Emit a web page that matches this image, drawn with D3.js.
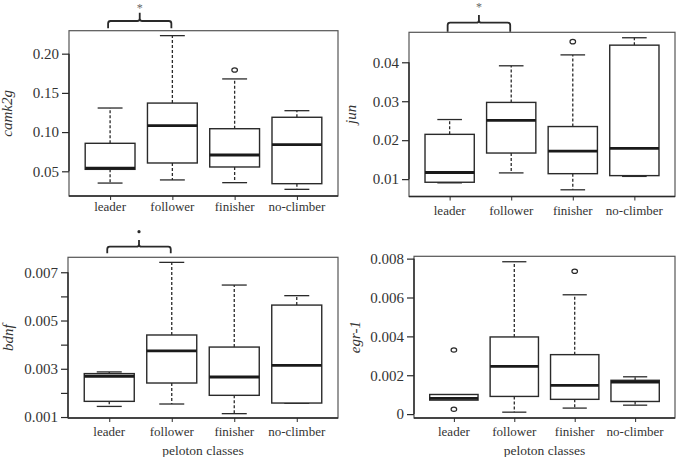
<!DOCTYPE html>
<html><head><meta charset="utf-8">
<script src="https://cdn.jsdelivr.net/npm/d3@7"></script>
<style>body{margin:0;background:#fff}svg{display:block}</style>
</head><body>
<script>
const categories = ["leader", "follower", "finisher", "no-climber"];

// [lower whisker, Q1, median, Q3, upper whisker]
const camk2gStats = [
  [0.035, 0.0525, 0.054, 0.0857, 0.1307],
  [0.039, 0.0606, 0.1082, 0.137, 0.223],
  [0.0355, 0.0555, 0.0708, 0.1043, 0.1678],
  [0.027, 0.0342, 0.084, 0.1189, 0.1273]
];
const camk2gOutliers = [[], [], [0.1792], []];
const camk2gTicks = [0.05, 0.10, 0.15, 0.20];
const camk2gTickLabels = ["0.05", "0.10", "0.15", "0.20"];

const junStats = [
  [0.00905, 0.0092, 0.0117, 0.0215, 0.0253],
  [0.0116, 0.0167, 0.0251, 0.0297, 0.0391],
  [0.00726, 0.0114, 0.0172, 0.0235, 0.0419],
  [0.0107, 0.0109, 0.0179, 0.0444, 0.0463]
];
const junOutliers = [[], [], [0.0453], []];
const junTicks = [0.01, 0.02, 0.03, 0.04];
const junTickLabels = ["0.01", "0.02", "0.03", "0.04"];

const bdnfStats = [
  [0.00144, 0.00165, 0.00269, 0.00280, 0.00287],
  [0.00154, 0.00241, 0.00374, 0.0044, 0.00741],
  [0.00114, 0.0019, 0.00266, 0.0039, 0.00647],
  [0.00157, 0.00158, 0.00314, 0.00564, 0.00603]
];
const bdnfOutliers = [[], [], [], []];
const bdnfTicks = [0.001, 0.002, 0.003, 0.004, 0.005, 0.006, 0.007];
const bdnfTickLabels = ["0.001", "", "0.003", "", "0.005", "", "0.007"];

const egr1Stats = [
  [0.00072, 0.00072, 0.00081, 0.00101, 0.00101],
  [0.0001, 0.00091, 0.00246, 0.00397, 0.00784],
  [0.00031, 0.00076, 0.00148, 0.00306, 0.00614],
  [0.00046, 0.00065, 0.00165, 0.00174, 0.00192]
];
const egr1Outliers = [[0.0033, 0.00025], [], [0.00735], []];
const egr1Ticks = [0, 0.002, 0.004, 0.006, 0.008];
const egr1TickLabels = ["0", "0.002", "0.004", "0.006", "0.008"];

const W = 678, H = 457;
const svg = d3.select("body").append("svg").attr("width", W).attr("height", H);

const panels = [
  {gene: "camk2g", stats: camk2gStats, out: camk2gOutliers, ticks: camk2gTicks, tl: camk2gTickLabels,
   domain: [0.0185, 0.2293], l: 69, r: 338, t: 30.7, b: 196, ylabX: 12, xlabY: 211,
   sig: {type: "star", yh: 21, yb: 28.3, yp: 12.7, ys: 12}},
  {gene: "jun", stats: junStats, out: junOutliers, ticks: junTicks, tl: junTickLabels,
   domain: [0.00554, 0.0477], l: 409, r: 675, t: 32.3, b: 196.5, ylabX: 356, xlabY: 215,
   sig: {type: "star", yh: 22.7, yb: 31.7, yp: 15, ys: 10.5}},
  {gene: "bdnf", stats: bdnfStats, out: bdnfOutliers, ticks: bdnfTicks, tl: bdnfTickLabels,
   domain: [0.00096, 0.00762], l: 68, r: 338, t: 257.3, b: 418, ylabX: 13, xlabY: 436, xtitle: true,
   sig: {type: "dot", yh: 246.7, yb: 253.3, yp: 240, ys: 231.7}},
  {gene: "egr-1", stats: egr1Stats, out: egr1Outliers, ticks: egr1Ticks, tl: egr1TickLabels,
   domain: [-0.0002, 0.00812], l: 414, r: 675, t: 256.3, b: 418, ylabX: 360, xlabY: 436, xtitle: true}
];

const ink = "#2a2a2a";
const serif = '"Liberation Serif"';

panels.forEach(p => {
  const x = d3.scaleLinear().domain([0.34, categories.length + 0.66]).range([p.l, p.r]);
  const y = d3.scaleLinear().domain(p.domain).range([p.b, p.t]);
  const g = svg.append("g");
  const bw = (x(1) - x(0)) * 0.8;

  // frame
  g.append("rect").attr("x", p.l).attr("y", p.t).attr("width", p.r - p.l).attr("height", p.b - p.t)
    .attr("fill", "none").attr("stroke", "#555").attr("stroke-width", 1.2);

  // y axis
  const yAxis = d3.axisLeft(y).tickValues(p.ticks).tickSize(7).tickPadding(3)
    .tickFormat((d, i) => p.tl[i]);
  const ya = g.append("g").attr("transform", `translate(${p.l},0)`).call(yAxis);
  ya.select(".domain").remove();
  ya.append("line").attr("x1", 0).attr("x2", 0).attr("y1", y(p.ticks[0])).attr("y2", y(p.ticks[p.ticks.length - 1]))
    .attr("stroke", ink).attr("stroke-width", 1.4);
  ya.selectAll(".tick line").attr("stroke", ink).attr("stroke-width", 1.2);
  ya.selectAll(".tick text").style("font-family", serif).style("font-size", "15px").attr("fill", "#333");

  // x axis ticks
  const xAxis = d3.axisBottom(x).tickValues(categories.map((c, i) => i + 1)).tickSize(4).tickFormat(() => "");
  const xa = g.append("g").attr("transform", `translate(0,${p.b})`).call(xAxis);
  xa.select(".domain").remove();
  xa.selectAll(".tick line").attr("stroke", ink);
  g.append("line").attr("x1", p.l).attr("x2", p.r).attr("y1", p.b).attr("y2", p.b)
    .attr("stroke", ink).attr("stroke-width", 1.4);
  categories.forEach((c, i) => {
    g.append("text").attr("x", x(i + 1)).attr("y", p.xlabY).attr("text-anchor", "middle")
      .style("font-family", serif).style("font-size", "13px").attr("fill", "#333").text(c);
  });

  // y label
  g.append("text").attr("transform", `translate(${p.ylabX},${(p.t + p.b) / 2}) rotate(-90)`)
    .attr("text-anchor", "middle").style("font-family", serif).style("font-style", "italic")
    .style("font-size", "15px").attr("fill", "#333").text(p.gene);

  if (p.xtitle) {
    g.append("text").attr("x", (p.l + p.r) / 2).attr("y", 455).attr("text-anchor", "middle")
      .style("font-family", serif).style("font-size", "13.5px").attr("fill", "#333").text("peloton classes");
  }

  // boxes
  p.stats.forEach((s, i) => {
    const cx = x(i + 1);
    const [lo, q1, med, q3, hi] = s;
    if (hi > q3) {
      g.append("line").attr("x1", cx).attr("x2", cx).attr("y1", y(q3)).attr("y2", y(hi))
        .attr("stroke", ink).attr("stroke-width", 1.3).attr("stroke-dasharray", "3,2");
      g.append("line").attr("x1", cx - bw / 4).attr("x2", cx + bw / 4).attr("y1", y(hi)).attr("y2", y(hi))
        .attr("stroke", ink).attr("stroke-width", 1.3);
    }
    if (lo < q1) {
      g.append("line").attr("x1", cx).attr("x2", cx).attr("y1", y(q1)).attr("y2", y(lo))
        .attr("stroke", ink).attr("stroke-width", 1.3).attr("stroke-dasharray", "3,2");
      g.append("line").attr("x1", cx - bw / 4).attr("x2", cx + bw / 4).attr("y1", y(lo)).attr("y2", y(lo))
        .attr("stroke", ink).attr("stroke-width", 1.3);
    }
    g.append("rect").attr("x", cx - bw / 2).attr("y", y(q3)).attr("width", bw).attr("height", y(q1) - y(q3))
      .attr("fill", "#fff").attr("stroke", ink).attr("stroke-width", 1.4);
    g.append("line").attr("x1", cx - bw / 2).attr("x2", cx + bw / 2).attr("y1", y(med)).attr("y2", y(med))
      .attr("stroke", "#1a1a1a").attr("stroke-width", 2.8);
    p.out[i].forEach(o => {
      g.append("ellipse").attr("cx", cx).attr("cy", y(o)).attr("rx", 2.8).attr("ry", 2.2)
        .attr("fill", "none").attr("stroke", ink).attr("stroke-width", 1.2);
    });
  });

  // significance bracket between leader and follower
  if (p.sig) {
    const s = p.sig;
    const x1 = x(1) - 2, x2 = x(2) - 1, xm = (x1 + x2) / 2, r = 2.5;
    const path = `M${x1},${s.yb} L${x1},${s.yh + r} Q${x1},${s.yh} ${x1 + r},${s.yh} L${xm - r},${s.yh} Q${xm},${s.yh} ${xm},${s.yh - r} L${xm},${s.yp}` +
      ` M${xm},${s.yh - r} Q${xm},${s.yh} ${xm + r},${s.yh} L${x2 - r},${s.yh} Q${x2},${s.yh} ${x2},${s.yh + r} L${x2},${s.yb}`;
    g.append("path").attr("d", path).attr("fill", "none").attr("stroke", ink).attr("stroke-width", 1.8);
    if (s.type === "star") {
      g.append("text").attr("x", xm).attr("y", s.ys).attr("text-anchor", "middle")
        .style("font-family", serif).style("font-size", "12px").attr("fill", "#666").text("*");
    } else {
      g.append("circle").attr("cx", xm).attr("cy", s.ys).attr("r", 1.6).attr("fill", ink);
    }
  }
});
</script>
</body></html>
